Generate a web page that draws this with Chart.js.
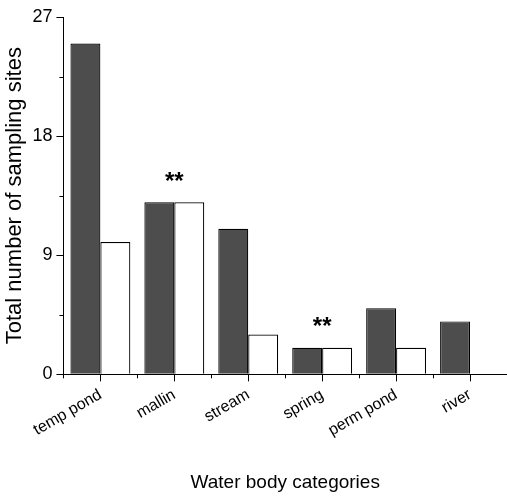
<!DOCTYPE html>
<html>
<head>
<meta charset="utf-8">
<script src="https://cdn.jsdelivr.net/npm/chart.js@4/dist/chart.umd.min.js"></script>
<style>
  html, body { margin: 0; padding: 0; background: #fff; }
  #wrap { width: 507px; height: 499px; }
</style>
</head>
<body>
<div id="wrap"><canvas id="chart" width="507" height="499"></canvas></div>
<script>
// data
const categories = ["temp pond", "mallin", "stream", "spring", "perm pond", "river"];
const darkValues = [25, 13, 11, 2, 5, 4];
const whiteValues = [10, 13, 3, 2, 2, 0];
const yTicks = [0, 9, 18, 27];
const yMinorTicks = [4.5, 13.5, 22.5];
const starred = ["mallin", "spring"];

const FONT = "Arial, 'Liberation Sans', sans-serif";

// minor ticks, category boundary ticks and the ** marks
const extras = {
  id: "extras",
  afterDraw(chart) {
    const ctx = chart.ctx;
    const x = chart.scales.x;
    const y = chart.scales.y;
    ctx.save();
    ctx.strokeStyle = "#000";
    ctx.lineWidth = 1;
    yMinorTicks.forEach(v => {
      const py = Math.round(y.getPixelForValue(v)) + 0.5;
      ctx.beginPath();
      ctx.moveTo(x.left - 4, py);
      ctx.lineTo(x.left, py);
      ctx.stroke();
    });
    for (let i = 0; i <= categories.length; i++) {
      const px = Math.round(x.getPixelForValue(i - 0.5)) + 0.5;
      ctx.beginPath();
      ctx.moveTo(px, y.bottom);
      ctx.lineTo(px, y.bottom + 4);
      ctx.stroke();
    }
    ctx.fillStyle = "#000";
    ctx.font = "bold 24px " + FONT;
    ctx.textAlign = "center";
    ctx.textBaseline = "middle";
    starred.forEach(name => {
      const i = categories.indexOf(name);
      const top = Math.max(darkValues[i], whiteValues[i]);
      ctx.fillText("**", x.getPixelForValue(i), y.getPixelForValue(top) - 20);
    });
    ctx.restore();
  }
};

new Chart(document.getElementById("chart"), {
  type: "bar",
  data: {
    labels: categories,
    datasets: [
      {
        data: darkValues,
        backgroundColor: "#4d4d4d",
        borderColor: "#000",
        borderWidth: 1.2,
        barPercentage: 1,
        categoryPercentage: 0.81
      },
      {
        data: whiteValues,
        backgroundColor: "#fff",
        borderColor: "#000",
        borderWidth: 1.2,
        barPercentage: 1,
        categoryPercentage: 0.81
      }
    ]
  },
  options: {
    responsive: false,
    animation: false,
    devicePixelRatio: 1,
    layout: { padding: { top: 17, left: 2, right: 0, bottom: 5 } },
    plugins: { legend: { display: false }, tooltip: { enabled: false } },
    scales: {
      x: {
        grid: { offset: false, drawOnChartArea: false, tickLength: 7, color: "#000" },
        border: { color: "#000", width: 1 },
        ticks: {
          color: "#000",
          font: { family: FONT, size: 16 },
          minRotation: 30,
          maxRotation: 30,
          padding: 4
        },
        title: {
          display: true,
          text: "Water body categories",
          color: "#000",
          font: { family: FONT, size: 19 },
          padding: { top: 27, bottom: 0 }
        }
      },
      y: {
        min: 0,
        max: 27,
        afterBuildTicks: axis => { axis.ticks = yTicks.map(v => ({ value: v })); },
        grid: { drawOnChartArea: false, tickLength: 7, color: "#000" },
        border: { color: "#000", width: 1 },
        ticks: {
          color: "#000",
          font: { family: FONT, size: 18 },
          padding: 4
        },
        title: {
          display: true,
          text: "Total number of sampling sites",
          color: "#000",
          font: { family: FONT, size: 22 },
          padding: { top: 0, bottom: 0 }
        }
      }
    }
  },
  plugins: [extras]
});
</script>
</body>
</html>
